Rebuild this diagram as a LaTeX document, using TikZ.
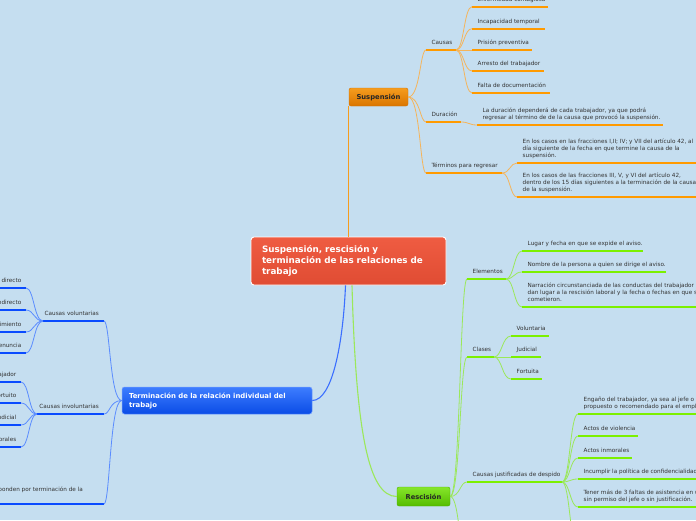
\documentclass[tikz,border=0pt]{standalone}
\usepackage{fontspec}
\setmainfont{DejaVu Sans}
\usetikzlibrary{calc}
\definecolor{bg}{HTML}{C5DEF0}
\definecolor{txt}{HTML}{333333}
\definecolor{orU}{HTML}{FF9A00}
\definecolor{orT}{HTML}{F5B45A}
\definecolor{grU}{HTML}{7CF000}
\definecolor{grT}{HTML}{9BE85A}
\definecolor{blU}{HTML}{0A4BFF}
\definecolor{blT}{HTML}{5A8CFF}
\definecolor{redA}{HTML}{EF5C42}
\definecolor{redB}{HTML}{E04C33}
\definecolor{orD}{HTML}{D27000}
\definecolor{orA}{HTML}{F59C1E}
\definecolor{orB}{HTML}{DA7500}
\definecolor{grD}{HTML}{4FB000}
\definecolor{grA}{HTML}{86E62A}
\definecolor{grB}{HTML}{55BC00}
\definecolor{blD}{HTML}{6E9BFF}
\definecolor{blA}{HTML}{3E7DFF}
\definecolor{blB}{HTML}{0A4CE6}
\tikzset{
  leaf/.style={font=\fontsize{5.7}{7}\selectfont, text=txt, inner sep=0pt, align=left, text depth=1.2pt},
  ou/.style={draw=orU, line width=2.2pt},
  ot/.style={draw=orT, line width=0.8pt},
  gu/.style={draw=grU, line width=2.2pt},
  gt/.style={draw=grT, line width=0.8pt},
  bu/.style={draw=blU, line width=2.2pt},
  bt/.style={draw=blT, line width=0.8pt},
  cnode/.style={rectangle, rounded corners=3pt, draw=white, line width=0.9pt,
    top color=redA, bottom color=redB, text=white,
    font=\fontsize{8.8}{11}\selectfont\bfseries, align=left,
    minimum width=195pt, minimum height=48pt, text width=173pt, inner xsep=11pt},
  susp/.style={rectangle, rounded corners=2pt, draw=orD, line width=0.4pt,
    top color=orA, bottom color=orB, text=black!85,
    font=\fontsize{6.8}{8}\selectfont\bfseries, minimum width=59pt, minimum height=18pt, inner sep=0pt},
  resc/.style={rectangle, rounded corners=2pt, draw=grD, line width=0.4pt,
    top color=grA, bottom color=grB, text=black!85,
    font=\fontsize{6.7}{8}\selectfont\bfseries, minimum width=53pt, minimum height=19pt, inner sep=0pt},
  term/.style={rectangle, rounded corners=2.5pt, draw=blD, line width=0.5pt,
    top color=blA, bottom color=blB, text=white,
    font=\fontsize{6.9}{9}\selectfont\bfseries, align=left,
    minimum width=190pt, minimum height=27pt, text width=176pt, inner xsep=7pt},
}
% right leaf: name, x1, x2, y, style, text
\newcommand{\rleaf}[6]{%
  \coordinate (#1-l) at (#2,#4); \coordinate (#1-r) at (#3,#4);
  \draw[#5] (#1-l) -- (#1-r);
  \node[leaf, anchor=south west] (#1) at ({#2+5.5},{#4-3.8}) {#6};}
% left leaf: name, x1, x2, y, style, text-right-offset, text
\newcommand{\lleaf}[7]{%
  \coordinate (#1-l) at (#2,#4); \coordinate (#1-r) at (#3,#4);
  \draw[#5] (#1-l) -- (#1-r);
  \node[leaf, anchor=south east, align=right] (#1) at ({#3-#6},{#4-3.8}) {#7};}
% branch: style, from, to, k1, k2
\newcommand{\br}[5]{\draw[#1] (#2) .. controls ($(#2)+(#4,0)$) and ($(#3)-(#5,0)$) .. (#3);}
\begin{document}
\begin{tikzpicture}[x=1pt,y=-1pt]
\useasboundingbox (0,0) rectangle (696,520);
\clip (0,0) rectangle (696,520);
\fill[bg] (0,0) rectangle (696,520);

% ---------- main nodes ----------
\node[cnode] (center) at (348.5,261) {Suspensión, rescisión y\\terminación de las relaciones de\\trabajo};
\node[susp] (susp) at (378.5,97) {Suspensión};
\node[resc] (resc) at (423.5,496.5) {Rescisión};
\node[term] (term) at (217,400.5) {Terminación de la relación individual del\\trabajo};

% ---------- main connectors ----------
\draw[draw=orA, line width=1pt] (center.north) -- (center.north |- susp.south);
\draw[draw=grT, line width=1.1pt] ($(center.south)+(3.5,0)$) .. controls (356,430) and (368,496.5) .. (resc.west);
\draw[draw=blU!80!white, line width=1.1pt] ($(center.south)+(-3,0)$) .. controls (343,345) and (332,400.5) .. (term.east);

% ---------- Suspensión ----------
\rleaf{causas}{426}{456}{50}{ou}{Causas}
\rleaf{c1}{472}{548}{6.7}{ou}{Enfermedad contagiosa}
\rleaf{c2}{472}{545}{28.7}{ou}{Incapacidad temporal}
\rleaf{c3}{472}{532}{50}{ou}{Prisión preventiva}
\rleaf{c4}{472}{544}{71}{ou}{Arresto del trabajador}
\rleaf{c5}{472}{550}{93}{ou}{Falta de documentación}
\rleaf{dur}{426}{461}{122}{ou}{Duración}
\rleaf{d1}{477}{663}{125}{ou}{La duración dependerá de cada trabajador, ya que podrá\\regresar al término de de la causa que provocó la suspensión.}
\rleaf{ter}{426}{502}{173}{ou}{Términos para regresar}
\rleaf{t1}{517}{700}{163}{ou}{En los casos en las fracciones I,II; IV; y VII del artículo 42, al\\día siguiente de la fecha en que termine la causa de la\\suspensión.}
\rleaf{t2}{517}{700}{197}{ou}{En los casos de las fracciones III, V, y VI del artículo 42,\\dentro de los 15 días siguientes a la terminación de la causa\\de la suspensión.}

\foreach \t in {causas-l,dur-l,ter-l} {\br{ot}{susp.east}{\t}{12}{6}}
\foreach \t in {c1-l,c2-l,c3-l,c4-l,c5-l} {\br{ot}{causas-r}{\t}{8}{8}}
\br{ot}{dur-r}{d1-l}{8}{8}
\foreach \t in {t1-l,t2-l} {\br{ot}{ter-r}{\t}{8}{7}}

% ---------- Rescisión ----------
\rleaf{elem}{467}{506}{279}{gu}{Elementos}
\rleaf{e1}{522}{643}{251}{gu}{Lugar y fecha en que se expide el aviso.}
\rleaf{e2}{522}{666}{272}{gu}{Nombre de la persona a quien se dirige el aviso.}
\rleaf{e3}{522}{700}{307}{gu}{Narración circunstanciada de las conductas del trabajador que\\dan lugar a la rescisión laboral y la fecha o fechas en que se\\cometieron.}
\rleaf{cla}{467}{494}{357}{gu}{Clases}
\rleaf{k1}{511}{549}{336}{gu}{Voluntaria}
\rleaf{k2}{511}{541}{357}{gu}{Judicial}
\rleaf{k3}{511}{542}{379}{gu}{Fortuita}
\rleaf{cjd}{467}{562}{482}{gu}{Causas justificadas de despido}
\rleaf{j1}{578}{700}{414}{gu}{Engaño del trabajador, ya sea al jefe o al\\propuesto o recomendado para el empleo.}
\rleaf{j2}{578}{638}{436}{gu}{Actos de violencia}
\rleaf{j3}{578}{632}{458}{gu}{Actos inmorales}
\rleaf{j4}{578}{700}{479}{gu}{Incumplir la política de confidencialidad de}
\rleaf{j5}{578}{700}{507}{gu}{Tener más de 3 faltas de asistencia en un\\sin permiso del jefe o sin justificación.}
\coordinate (j6-l) at (578,550);
\coordinate (r4-l) at (467,570);

\foreach \t in {elem-l,cla-l,cjd-l,r4-l} {\br{gt}{resc.east}{\t}{10}{7}}
\foreach \t in {e1-l,e2-l,e3-l} {\br{gt}{elem-r}{\t}{8}{8}}
\foreach \t in {k1-l,k2-l,k3-l} {\br{gt}{cla-r}{\t}{8}{9}}
\foreach \t in {j1-l,j2-l,j3-l,j4-l,j5-l,j6-l} {\br{gt}{cjd-r}{\t}{8}{8}}

% ---------- Terminación ----------
\lleaf{vol}{43}{104}{321}{bu}{5}{Causas voluntarias}
\lleaf{v1}{-8}{26}{288}{bu}{4.5}{Despido directo}
\lleaf{v2}{-8}{26}{310}{bu}{4.5}{Despido indirecto}
\lleaf{v3}{-8}{26}{332}{bu}{4.5}{Mutuo consentimiento}
\lleaf{v4}{-8}{26}{353}{bu}{4.5}{Renuncia}
\lleaf{inv}{37}{104}{414}{bu}{5}{Causas involuntarias}
\lleaf{i1}{-8}{21}{382}{bu}{4.5}{Muerte del trabajador}
\lleaf{i2}{-8}{21}{403}{bu}{4.5}{Caso fortuito}
\lleaf{i3}{-8}{21}{425}{bu}{4.5}{Resolución judicial}
\lleaf{i4}{-8}{21}{447}{bu}{4.5}{Causas temporales}
\coordinate (res-l) at (-8,504); \coordinate (res-r) at (104,504);
\draw[bu] (res-l) -- (res-r);
\node[leaf, anchor=south east] (res) at (83,493.2) {Responsabilidades que corresponden por terminación de la};

\foreach \t in {vol-r,inv-r,res-r} {\br{bt}{term.west}{\t}{-12}{-6}}
\foreach \t in {v1-r,v2-r,v3-r,v4-r} {\br{bt}{vol-l}{\t}{-9}{-8}}
\foreach \t in {i1-r,i2-r,i3-r,i4-r} {\br{bt}{inv-l}{\t}{-8}{-8}}
\end{tikzpicture}
\end{document}
